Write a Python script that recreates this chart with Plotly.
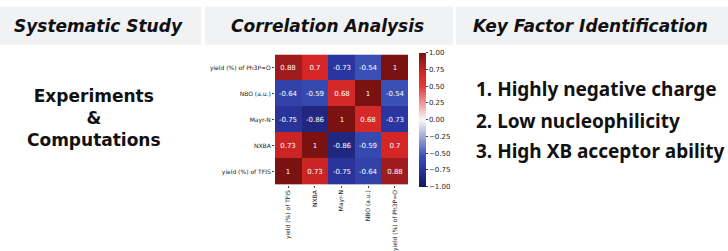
import plotly.graph_objects as go

labels = ["yield (%) of TFIS", "NXBA", "Mayr-N", "NBO (a.u.)", "yield (%) of Ph3P=O"]
corr = [
    [1, 0.73, -0.75, -0.64, 0.88],
    [0.73, 1, -0.86, -0.59, 0.7],
    [-0.75, -0.86, 1, 0.68, -0.73],
    [-0.64, -0.59, 0.68, 1, -0.54],
    [0.88, 0.7, -0.73, -0.54, 1],
]
headers = ["Systematic Study", "Correlation Analysis", "Key Factor Identification"]
left_text = ["Experiments", "&", "Computations"]
factors = ["1. Highly negative charge", "2. Low nucleophilicity", "3. High XB acceptor ability"]
cbar_ticks = [1.0, 0.75, 0.5, 0.25, 0.0, -0.25, -0.5, -0.75, -1.0]

W, H = 728, 251
def px(x): return x / W
def py(y): return 1 - y / H

colorscale = [
    [0.0, "#15185a"],
    [0.07, "#21277e"],
    [0.135, "#2b359f"],
    [0.23, "#3a50b4"],
    [0.5, "#f8f8fb"],
    [0.75, "#e23a3a"],
    [0.85, "#d42626"],
    [0.94, "#9e1b1e"],
    [1.0, "#7a1212"],
]

text = [[("%g" % v) for v in row] for row in corr]

fig = go.Figure(go.Heatmap(
    z=corr, x=labels, y=labels, zmin=-1, zmax=1,
    colorscale=colorscale,
    text=text, texttemplate="%{text}",
    textfont=dict(color="white", size=7, family="DejaVu Sans"),
    xgap=0, ygap=0,
    colorbar=dict(
        x=px(419), xanchor="left", y=py(123), yanchor="middle",
        len=134, lenmode="pixels", thickness=7, thicknessmode="pixels",
        tickvals=cbar_ticks, ticktext=["%.2f" % t if t >= 0 else "\u2212%.2f" % abs(t) for t in cbar_ticks],
        ticks="outside", ticklen=2, tickfont=dict(size=7, family="DejaVu Sans", color="#222"),
        outlinewidth=0, xpad=0, ypad=0,
    ),
))

fig.update_xaxes(domain=[px(275), px(408)], tickangle=-90, ticks="outside", ticklen=2,
                 tickfont=dict(size=6, family="DejaVu Sans", color="#222"), showgrid=False)
fig.update_yaxes(domain=[py(190), py(56)], ticks="outside", ticklen=2,
                 tickfont=dict(size=6, family="DejaVu Sans", color="#222"), showgrid=False)

box_color = "#f1f2f4"
boxes = [(0, 201), (205, 453), (456, 728)]
shapes = []
annotations = []
for (x0, x1), h in zip(boxes, headers):
    shapes.append(dict(type="rect", xref="paper", yref="paper", x0=px(x0), x1=px(x1),
                       y0=py(46), y1=py(7), fillcolor=box_color, line=dict(width=0), layer="below"))
    annotations.append(dict(text="<b><i>%s</i></b>" % h, xref="paper", yref="paper",
                            x=px((x0 + x1) / 2 - 2), y=py(27), showarrow=False,
                            xanchor="center", yanchor="middle",
                            font=dict(size=17, family="DejaVu Sans", color="#111")))

annotations.append(dict(text="<br>".join("<b>%s</b>" % t for t in left_text),
                        xref="paper", yref="paper", x=px(94), y=py(121), showarrow=False,
                        xanchor="center", yanchor="middle", align="center",
                        font=dict(size=17, family="DejaVu Sans", color="#111")))

for t, yy in zip(factors, [92, 124, 155]):
    annotations.append(dict(text="<b>%s</b>" % t, xref="paper", yref="paper",
                            x=px(474), y=py(yy), showarrow=False, xanchor="left", yanchor="middle",
                            font=dict(size=19, family="Noto Sans", color="#111")))

fig.update_layout(width=W, height=H, margin=dict(l=0, r=0, t=0, b=0),
                  paper_bgcolor="white", plot_bgcolor="white",
                  shapes=shapes, annotations=annotations, showlegend=False)

fig.write_html("out.html", config={"displayModeBar": False},
               post_script="document.body.style.margin='0';document.body.style.overflow='hidden';")
